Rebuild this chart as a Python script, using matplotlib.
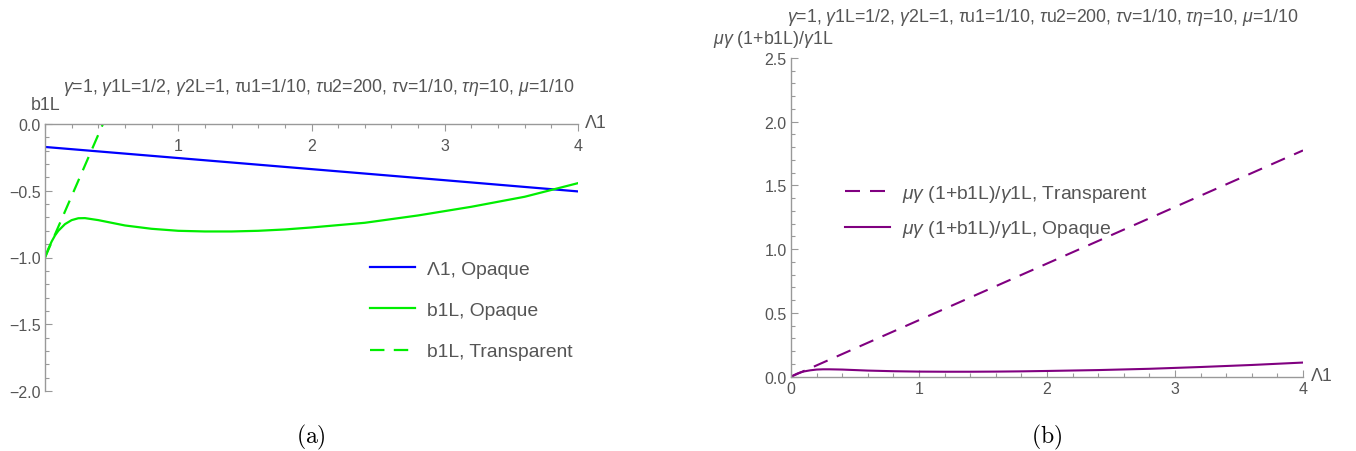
import numpy as np
import matplotlib
matplotlib.use("Agg")
import matplotlib.pyplot as plt
from matplotlib.ticker import MultipleLocator, FixedLocator, FuncFormatter

# ---------------------------------------------------------------
# data
# ---------------------------------------------------------------
lam_blue = [0.0, 1.0, 2.0, 3.0, 4.0]
lam1_opaque = [-0.172, -0.255, -0.338, -0.421, -0.505]

lam_curve = [0.0, 0.025, 0.05, 0.075, 0.1, 0.15, 0.2, 0.25, 0.3, 0.4, 0.5, 0.6,
             0.8, 1.0, 1.2, 1.4, 1.6, 1.8, 2.0, 2.4, 2.8, 3.2, 3.6, 4.0]
b1L_opaque = [-1.0, -0.935, -0.88, -0.835, -0.80, -0.75, -0.72, -0.706, -0.705,
              -0.72, -0.74, -0.76, -0.785, -0.80, -0.805, -0.805, -0.80, -0.79,
              -0.775, -0.74, -0.685, -0.62, -0.545, -0.443]

lam_transp = [0.0, 0.5]
b1L_transp = [-1.0, 0.15]

# right panel: mu*gamma*(1+b1L)/gamma1L
ratio_opaque = [0.0, 0.013, 0.025, 0.034, 0.041, 0.05, 0.056, 0.058, 0.058,
                0.056, 0.052, 0.048, 0.043, 0.040, 0.039, 0.039, 0.040, 0.042,
                0.045, 0.052, 0.062, 0.076, 0.092, 0.111]
lam_ratio_t = [0.0, 4.0]
ratio_transp = [0.0, 1.775]

PARAMS = (r"$\gamma$=1, $\gamma$1L=1/2, $\gamma$2L=1, $\tau$u1=1/10, $\tau$u2=200, "
          r"$\tau$v=1/10, $\tau\eta$=10, $\mu$=1/10")

TXT = "#555555"
AXC = "#999999"
FS_TICK = 11.5
FS_TXT = 12.8
FS_LEG = 13.9

plt.rcParams["font.family"] = ["Liberation Sans", "DejaVu Sans"]
plt.rcParams["mathtext.fontset"] = "custom"
plt.rcParams["mathtext.rm"] = "Liberation Sans"
plt.rcParams["mathtext.it"] = "Liberation Sans:italic"

W, H = 1356, 452
fig = plt.figure(figsize=(W / 100, H / 100), dpi=100)


def fx(px):
    return px / W


def fy(py):
    return 1 - py / H


def style_axes(ax):
    for s in ("top", "right"):
        ax.spines[s].set_visible(False)
    for s in ("left", "bottom"):
        ax.spines[s].set_color(AXC)
        ax.spines[s].set_linewidth(1.0)
    ax.tick_params(which="both", colors=AXC, labelcolor=TXT, labelsize=FS_TICK, width=0.8)
    ax.tick_params(which="major", length=5)
    ax.tick_params(which="minor", length=3)
    ax.yaxis.set_major_formatter(FuncFormatter(lambda v, p: f"{v:.1f}".replace("-", "\u2212")))


# ---------------- (a) ----------------
axa = fig.add_axes([fx(45), fy(392), fx(578 - 45), fy(125) - fy(392)])
axa.plot(lam_blue, lam1_opaque, color="#0000ff", lw=1.6, label="\u039b1, Opaque")
axa.plot(lam_curve, b1L_opaque, color="#00ee00", lw=1.6, label="b1L, Opaque")
axa.plot(lam_transp, b1L_transp, color="#00ee00", lw=1.6, dashes=(6.5, 4.2),
         label="b1L, Transparent")
axa.set_xlim(0, 4)
axa.set_ylim(-2, 0)
style_axes(axa)
axa.spines["bottom"].set_position(("data", 0))
axa.xaxis.set_major_locator(FixedLocator([1, 2, 3, 4]))
axa.xaxis.set_minor_locator(MultipleLocator(0.2))
axa.yaxis.set_major_locator(MultipleLocator(0.5))
axa.yaxis.set_minor_locator(MultipleLocator(0.1))
axa.tick_params(axis="x", which="both", direction="out", pad=5)
axa.tick_params(axis="y", which="both", direction="in", pad=3)

fig.text(fx(319), fy(87), PARAMS, ha="center", va="center", fontsize=FS_TXT, color=TXT)
fig.text(fx(46), fy(105), "b1L", ha="center", va="center", fontsize=FS_TXT, color=TXT)
fig.text(fx(585), fy(124), "\u039b1", ha="left", va="center", fontsize=FS_TXT, color=TXT)

axa.legend(loc="upper left", bbox_to_anchor=(fx(370), fy(261)), bbox_transform=fig.transFigure,
           frameon=False, fontsize=FS_LEG, labelcolor=TXT, handlelength=2.33, handletextpad=0.62,
           labelspacing=1.24, borderpad=0, borderaxespad=0)

# ---------------- (b) ----------------
axb = fig.add_axes([fx(791), fy(377.7), fx(1303 - 791), fy(59) - fy(377.7)])
axb.plot(lam_ratio_t, ratio_transp, color="#800080", lw=1.5, dashes=(7.2, 4.8),
         label=r"$\mu\gamma$ (1+b1L)/$\gamma$1L, Transparent")
axb.plot(lam_curve, ratio_opaque, color="#800080", lw=1.5,
         label=r"$\mu\gamma$ (1+b1L)/$\gamma$1L, Opaque")
axb.set_xlim(0, 4)
axb.set_ylim(0, 2.5)
style_axes(axb)
axb.xaxis.set_major_locator(MultipleLocator(1))
axb.xaxis.set_minor_locator(MultipleLocator(0.2))
axb.yaxis.set_major_locator(MultipleLocator(0.5))
axb.yaxis.set_minor_locator(MultipleLocator(0.1))
axb.tick_params(axis="both", which="both", direction="in", pad=3)

fig.text(fx(1043), fy(18), PARAMS, ha="center", va="center", fontsize=FS_TXT, color=TXT)
fig.text(fx(834), fy(40), r"$\mu\gamma$ (1+b1L)/$\gamma$1L", ha="right", va="center",
         fontsize=FS_TXT, color=TXT)
fig.text(fx(1311), fy(377), "\u039b1", ha="left", va="center", fontsize=FS_TXT, color=TXT)

axb.legend(loc="upper left", bbox_to_anchor=(fx(845), fy(184)), bbox_transform=fig.transFigure,
           frameon=False, fontsize=FS_LEG, labelcolor=TXT, handlelength=2.33, handletextpad=0.62,
           labelspacing=0.75, borderpad=0, borderaxespad=0)

# captions
fig.text(fx(311), fy(437), r"$\mathrm{(a)}$", ha="center", va="center", fontsize=17,
         color="black", math_fontfamily="cm")
fig.text(fx(1047), fy(437), r"$\mathrm{(b)}$", ha="center", va="center", fontsize=17,
         color="black", math_fontfamily="cm")

fig.savefig("out.png", dpi=100)
